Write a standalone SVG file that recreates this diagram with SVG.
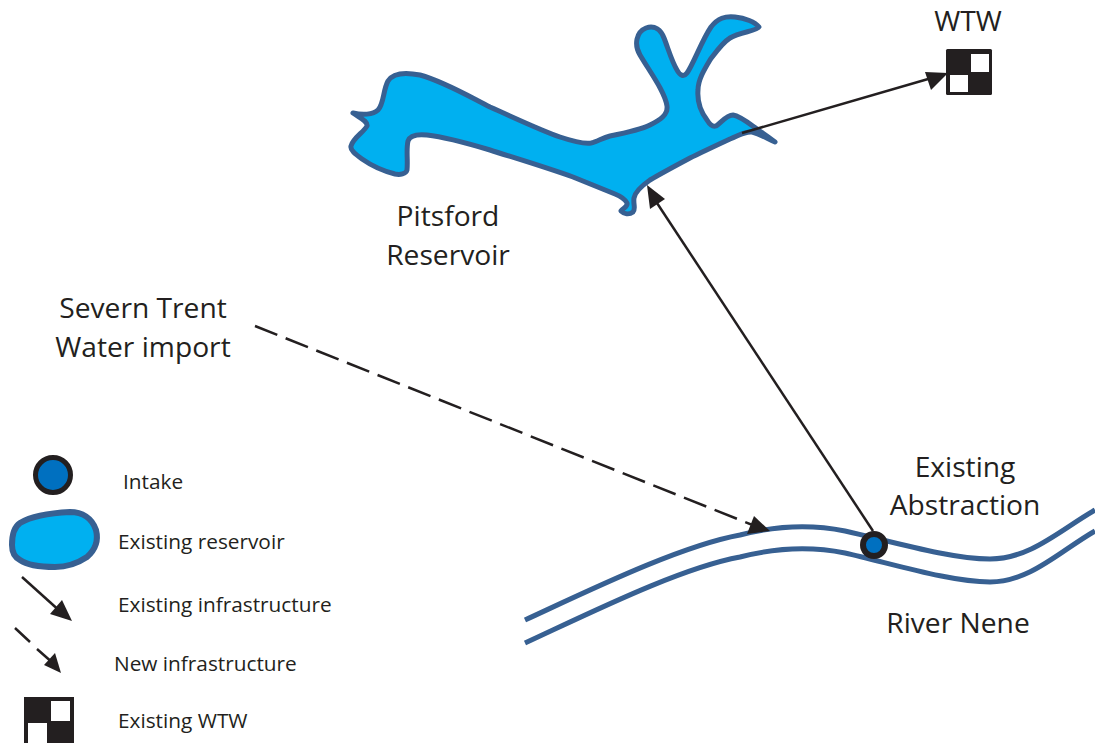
<svg xmlns="http://www.w3.org/2000/svg" width="1095" height="743" viewBox="0 0 1095 743">
<style>
text{font-family:"Open Sans","Noto Sans",sans-serif;fill:#231f20}
.lg{font-size:28.2px;text-anchor:middle}
.sm{font-size:20.8px}
.res{fill:#00b0f0;stroke:#376092;stroke-width:5;stroke-linejoin:round}
.riv{fill:none;stroke:#376092;stroke-width:5}
.ln{fill:none;stroke:#231f20;stroke-width:2.5}
.hd{fill:#231f20}
.in{fill:#0070c0;stroke:#231f20;stroke-width:6}
</style>
<rect width="1095" height="743" fill="#fff"/>
<g id="river"><path class="riv" d="M525 620C590 590 680 546 740 535C775 526 810 524 845 531C890 541 950 559 990 559C1030 559 1060 530 1095 510"/><path class="riv" d="M525 643C590 613 680 568 740 557C775 548 810 546 845 553C890 563 950 582 990 582C1030 582 1060 551 1095 531"/></g>
<g id="reservoir"><path class="res" d="M353 113C362 115 373 115 378 110C384 104 383 90 388 81C393 73 405 72 420 75C445 82 470 97 490 107C515 118 540 130 560 137C572 141 584 144 591 143C597 142 602 138 610 136C625 133 640 130 650 125C660 120 668 115 667 106C665 92 650 72 640 55C634 45 636 32 646 28C655 25 661 30 664 38C668 48 672 62 677 70C680 76 684 77 687 73C693 65 702 40 711 27C718 18 725 16 735 17C745 18 755 22 759 27C757 31 740 32 730 38C722 43 716 52 710 60C704 70 698 80 698 90C697 102 701 112 707 120C710 125 713 127 716 126C720 124 726 115 733 115C740 116 750 124 757 129C764 134 770 138 775 142C768 139 760 134 752 132C745 131 740 135 730 139C715 146 700 153 690 158C675 166 660 174 650 180C640 187 635 192 634 198C633 204 636 209 633 212C629 215 624 214 621 211C623 208 628 207 627 203C625 199 620 196 615 194C600 188 585 182 573 177C545 167 515 158 490 150C470 144 445 137 427 135C417 134 410 135 408 141C406 150 408 160 407 170C406 174 400 175 395 174C383 171 372 166 362 159C355 154 350 150 351 146C353 138 364 132 367 126C368 121 360 118 353 113Z"/></g>
<g id="connectors">
<path class="ln" d="M742 133L935 77"/><path class="hd" d="M948 73L931 90L925 72Z"/>
<path class="ln" d="M873 531L655 200"/><path class="hd" d="M647 185L665 199L650 209Z"/>
<path class="ln" stroke-dasharray="24 9" d="M255 326L755 526"/><path class="hd" d="M770 531L747 534L754 516Z"/>
</g>
<g id="wtw"><rect x="946" y="49" width="46" height="46" rx="1.5" fill="#231f20"/><rect x="971" y="54" width="18" height="18" fill="#fff"/><rect x="950" y="75" width="18" height="17" fill="#fff"/><text class="lg" x="968" y="31">WTW</text></g>
<g id="intake"><circle class="in" cx="874" cy="545" r="11"/></g>
<g id="labels">
<text class="lg" x="448" y="226">Pitsford</text><text class="lg" x="448" y="265">Reservoir</text>
<text class="lg" x="143" y="318">Severn Trent</text><text class="lg" x="143" y="357">Water import</text>
<text class="lg" x="965" y="477">Existing</text><text class="lg" x="965" y="515">Abstraction</text>
<text class="lg" x="958" y="633">River Nene</text>
</g>
<g id="legend">
<circle class="in" style="stroke-width:5" cx="53" cy="475" r="17.5"/>
<text class="sm" x="123" y="489">Intake</text>
<path class="res" style="stroke-width:6" d="M12 545C12 535 14 527 20 523C30 517 50 513 70 512C82 512 92 518 96 530C99 542 95 550 87 557C78 563 68 567 55 567C42 567 27 565 20 560C14 557 12 552 12 545Z"/>
<text class="sm" x="118" y="549">Existing reservoir</text>
<path class="ln" d="M22 577L62 613"/><path class="hd" d="M72 621L50 614L62 600Z"/>
<text class="sm" x="118" y="612">Existing infrastructure</text>
<path class="ln" d="M15 628L30 642M37 649L54 664"/><path class="hd" d="M61 673L44 665L55 653Z"/>
<text class="sm" x="114" y="671">New infrastructure</text>
<rect x="24" y="697" width="50" height="46" fill="#231f20"/><rect x="51" y="701" width="19" height="20" fill="#fff"/><rect x="28" y="723" width="19" height="20" fill="#fff"/>
<text class="sm" x="118" y="728">Existing WTW</text>
</g>
</svg>
